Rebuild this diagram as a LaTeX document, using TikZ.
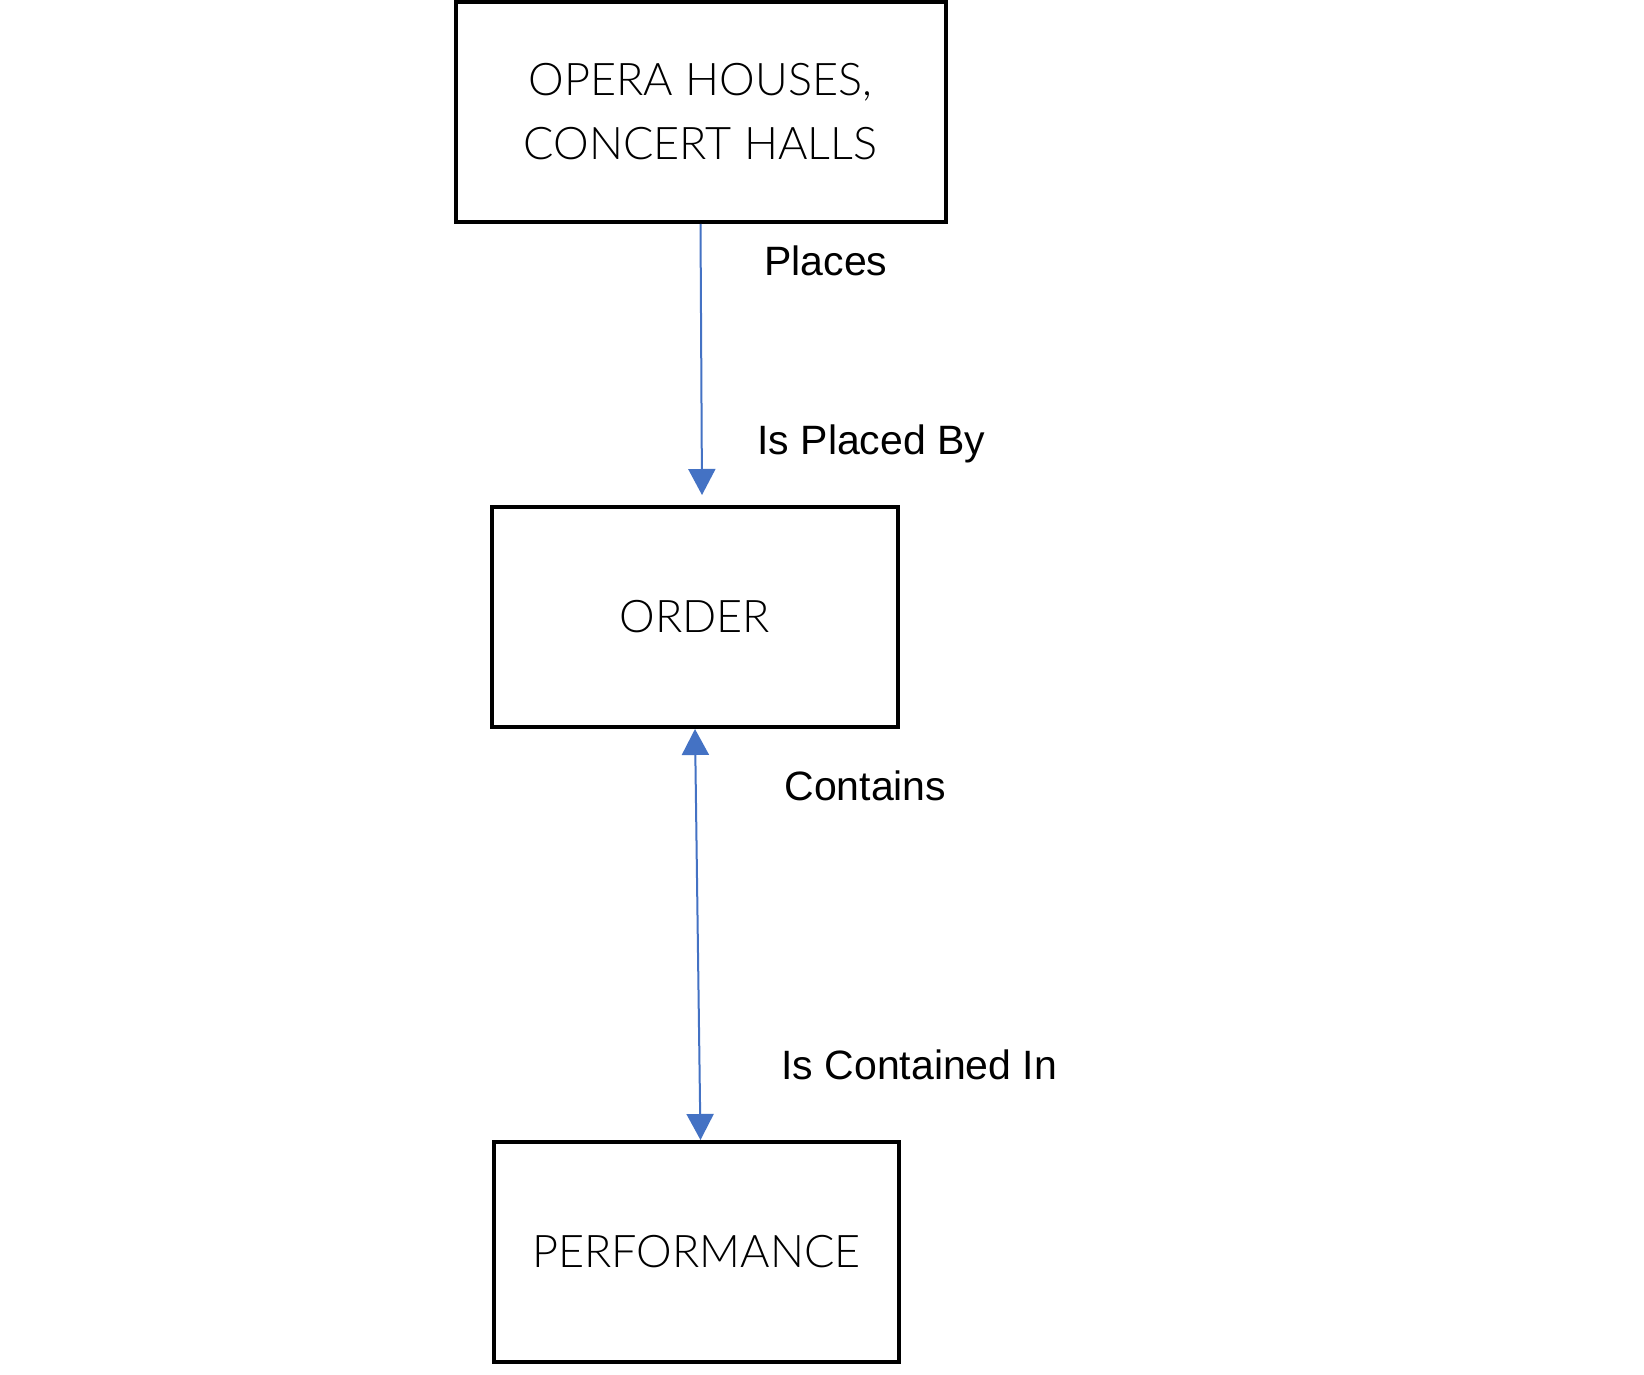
\documentclass[tikz,border=0pt]{standalone}
\usepackage{fontspec}
\setmainfont{Liberation Sans}
\newfontfamily\boxfont{Lato Light}
\usetikzlibrary{arrows.meta}
\definecolor{connblue}{HTML}{4472C4}
\begin{document}
\begin{tikzpicture}[x=0.5pt,y=-0.5pt,
  entity/.style={draw=black,line width=2pt,inner sep=0pt,align=center,
    font=\boxfont\fontsize{22.5}{32}\selectfont},
  conn/.style={draw=connblue,line width=1pt},
  tip/.style={-{Triangle[width=13.5pt,length=13pt]}},
  rellabel/.style={anchor=west,inner sep=0pt,font=\fontsize{20.5}{24}\selectfont}]
\useasboundingbox[fill=white] (0,0) rectangle (1644,1375);
\node[entity,minimum width=245pt,minimum height=110pt] (b1) at (700.5,112) {OPERA HOUSES,\\CONCERT HALLS};
\node[entity,minimum width=203pt,minimum height=110pt] (b2) at (695,617) {ORDER};
\node[entity,minimum width=202.5pt,minimum height=110pt] (b3) at (696.5,1252) {PERFORMANCE};
\coordinate (t1) at (702,495);
\draw[conn,tip] (b1.south) -- (t1);
\draw[conn,{Triangle[width=13.5pt,length=13pt]}-{Triangle[width=13.5pt,length=13pt]}] (b2.south) -- ([xshift=2pt]b3.north);
\node[rellabel] (l1) at (764,261) {Places};
\node[rellabel] (l2) at (757,444) {Is Placed By};
\node[rellabel] (l3) at (784,786) {Contains};
\node[rellabel] (l4) at (781,1065) {Is Contained In};
\end{tikzpicture}
\end{document}
